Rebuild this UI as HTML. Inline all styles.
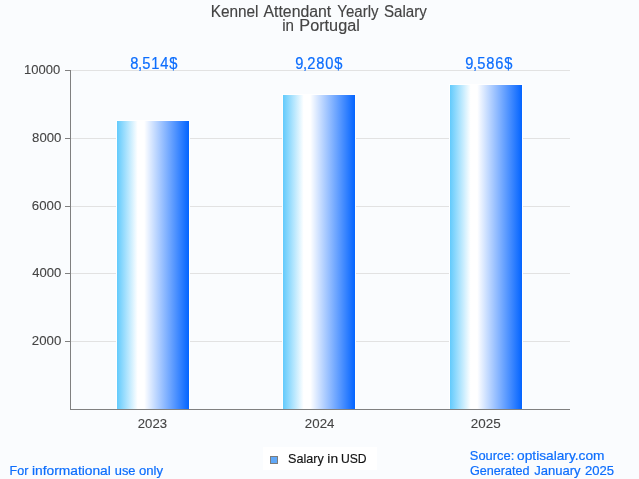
<!DOCTYPE html>
<html>
<head>
<meta charset="utf-8">
<title>Kennel Attendant Yearly Salary in Portugal</title>
<style>
html,body{margin:0;padding:0;background:#fafcfe;}
body{width:639px;height:479px;overflow:hidden;}
svg{display:block;}
text{font-family:"Liberation Sans",sans-serif;white-space:pre;}
.t{font-size:16px;fill:#444;stroke:#444;stroke-width:0.15px;}
.v{font-size:16px;fill:#0d6efd;stroke:#0d6efd;stroke-width:0.2px;}
.a{font-size:13px;fill:#444;stroke:#444;stroke-width:0.1px;}
.f{font-size:13px;fill:#0d6efd;stroke:#0d6efd;stroke-width:0.2px;}
.l{font-size:13px;fill:#111;stroke:#111;stroke-width:0.15px;}
</style>
</head>
<body>
<svg width="639" height="479" viewBox="0 0 639 479">
<defs>
<linearGradient id="g" x1="0" y1="0" x2="1" y2="0">
<stop offset="0" stop-color="#5ec9fc"/>
<stop offset="0.29" stop-color="#ffffff"/>
<stop offset="0.38" stop-color="#ffffff"/>
<stop offset="1" stop-color="#0062ff"/>
</linearGradient>
</defs>
<rect x="0" y="0" width="639" height="479" fill="#fafcfe"/>
<g stroke="#e2e2e2" stroke-width="1" shape-rendering="crispEdges">
<line x1="70" y1="70.5" x2="570" y2="70.5"/>
<line x1="70" y1="138.5" x2="570" y2="138.5"/>
<line x1="70" y1="206.5" x2="570" y2="206.5"/>
<line x1="70" y1="273.5" x2="570" y2="273.5"/>
<line x1="70" y1="341.5" x2="570" y2="341.5"/>
</g>
<g stroke="#808080" stroke-width="1" shape-rendering="crispEdges">
<line x1="65" y1="70.5" x2="70" y2="70.5"/>
<line x1="65" y1="138.5" x2="70" y2="138.5"/>
<line x1="65" y1="206.5" x2="70" y2="206.5"/>
<line x1="65" y1="273.5" x2="70" y2="273.5"/>
<line x1="65" y1="341.5" x2="70" y2="341.5"/>
</g>
<g stroke="#ffffff" stroke-width="1">
<rect x="116.5" y="120.5" width="73" height="289" fill="url(#g)"/>
<rect x="282.5" y="94.5" width="73" height="315" fill="url(#g)"/>
<rect x="449.5" y="84.5" width="73" height="325" fill="url(#g)"/>
</g>
<g stroke="#808080" stroke-width="1" shape-rendering="crispEdges" fill="none">
<line x1="70.5" y1="70" x2="70.5" y2="410"/>
<line x1="70" y1="409.5" x2="570" y2="409.5"/>
</g>
<rect x="263" y="447" width="114" height="23" fill="#ffffff"/>
<rect x="270.5" y="456.5" width="7" height="7" fill="#60a8f8" stroke="#7c7c7c" stroke-width="1"/>
<text class="t" y="17.0"><tspan x="210.7" textLength="47.81" lengthAdjust="spacingAndGlyphs">Kennel</tspan> <tspan x="263.5" textLength="67.7" lengthAdjust="spacingAndGlyphs">Attendant</tspan> <tspan x="337.27" textLength="41.23" lengthAdjust="spacingAndGlyphs">Yearly</tspan> <tspan x="384.03" textLength="42.87" lengthAdjust="spacingAndGlyphs">Salary</tspan></text>
<text class="t" y="31.0"><tspan x="282.15" textLength="11.8" lengthAdjust="spacingAndGlyphs">in</tspan> <tspan x="299.33" textLength="60.49" lengthAdjust="spacingAndGlyphs">Portugal</tspan></text>
<text class="v" transform="translate(129.8 69.0) scale(0.92 1)" x="0.43 8.90 13.61 23.38 33.14 42.91">8,514$</text>
<text class="v" transform="translate(294.8 69.0) scale(0.92 1)" x="0.43 8.90 13.61 23.38 33.14 42.91">9,280$</text>
<text class="v" transform="translate(464.8 69.0) scale(0.92 1)" x="0.43 8.90 13.61 23.38 33.14 42.91">9,586$</text>
<text class="a" y="73.7"><tspan x="24.09" textLength="36.14" lengthAdjust="spacingAndGlyphs">10000</tspan></text>
<text class="a" y="141.7"><tspan x="32.09" textLength="29.24" lengthAdjust="spacingAndGlyphs">8000</tspan></text>
<text class="a" y="209.7"><tspan x="31.88" textLength="29.45" lengthAdjust="spacingAndGlyphs">6000</tspan></text>
<text class="a" y="276.7"><tspan x="32.3" textLength="29.03" lengthAdjust="spacingAndGlyphs">4000</tspan></text>
<text class="a" y="344.7"><tspan x="31.88" textLength="29.45" lengthAdjust="spacingAndGlyphs">2000</tspan></text>
<text class="a" y="428.0"><tspan x="137.78" textLength="29.25" lengthAdjust="spacingAndGlyphs">2023</tspan></text>
<text class="a" y="428.0"><tspan x="304.88" textLength="29.55" lengthAdjust="spacingAndGlyphs">2024</tspan></text>
<text class="a" y="428.0"><tspan x="470.77" textLength="29.87" lengthAdjust="spacingAndGlyphs">2025</tspan></text>
<text class="l" y="462.8"><tspan x="288.11" textLength="35.79" lengthAdjust="spacingAndGlyphs">Salary</tspan> <tspan x="327.39" textLength="10.73" lengthAdjust="spacingAndGlyphs">in</tspan> <tspan x="340.95" textLength="25.66" lengthAdjust="spacingAndGlyphs">USD</tspan></text>
<text class="f" y="474.6"><tspan x="9.62" textLength="18.84" lengthAdjust="spacingAndGlyphs">For</tspan> <tspan x="31.95" textLength="78.89" lengthAdjust="spacingAndGlyphs">informational</tspan> <tspan x="114.8" textLength="20.72" lengthAdjust="spacingAndGlyphs">use</tspan> <tspan x="138.99" textLength="24.11" lengthAdjust="spacingAndGlyphs">only</tspan></text>
<text class="f" y="460.0"><tspan x="469.85" textLength="44.42" lengthAdjust="spacingAndGlyphs">Source:</tspan> <tspan x="517.07" textLength="87.39" lengthAdjust="spacingAndGlyphs">optisalary.com</tspan></text>
<text class="f" y="474.6"><tspan x="470.01" textLength="59.45" lengthAdjust="spacingAndGlyphs">Generated</tspan> <tspan x="534.2" textLength="46.4" lengthAdjust="spacingAndGlyphs">January</tspan> <tspan x="584.99" textLength="29.04" lengthAdjust="spacingAndGlyphs">2025</tspan></text>
</svg>
</body>
</html>
